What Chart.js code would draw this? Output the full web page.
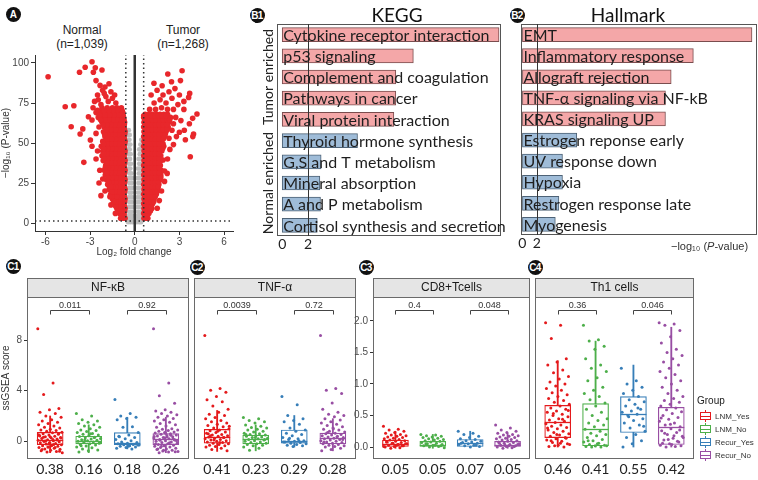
<!DOCTYPE html>
<html>
<head>
<meta charset="utf-8">
<script src="https://cdn.jsdelivr.net/npm/chart.js@4.4.0/dist/chart.umd.min.js"></script>
<style>
  body { margin: 0; background: #fff; }
  #wrap { position: relative; width: 758px; height: 480px; overflow: hidden; font-family: "Liberation Sans", Arial, sans-serif; color: #222; }
  #wrap canvas { position: absolute; }
  .badge { position: absolute; width: 15px; height: 15px; margin: -7.5px 0 0 -7.5px; border-radius: 50%; background: #111; color: #fff; font: bold 10px "Liberation Sans", Arial, sans-serif; text-align: center; line-height: 15px; letter-spacing: -0.6px; }
  .head { position: absolute; width: 110px; text-align: center; font-size: 12px; line-height: 14px; }
</style>
</head>
<body>
<div id="wrap">
  <div class="badge" style="left:13px;top:14px">A</div>
  <div class="badge" style="left:257px;top:15px">B1</div>
  <div class="badge" style="left:517px;top:15px">B2</div>
  <div class="badge" style="left:13px;top:266px">C1</div>
  <div class="badge" style="left:197px;top:267px">C2</div>
  <div class="badge" style="left:366px;top:267px">C3</div>
  <div class="badge" style="left:535px;top:267px">C4</div>
  <div class="head" style="left:27px;top:23px">Normal<br>(n=1,039)</div>
  <div class="head" style="left:128px;top:23px">Tumor<br>(n=1,268)</div>
</div>
<script>
// ---------- A: volcano ----------
const volcanoXTicks = [-6, -3, 0, 3, 6];
const volcanoYTicks = [0, 25, 50, 75, 100];
const fcCut = 0.6;
const pCut = 1.3;

// rows: [-log10 p, log2 fold changes...]
const normalRows = [
  [3, -0.65, -0.8, -0.95], [6, -0.72, -0.88, -1.02], [9, -0.65, -0.85, -1.05, -1.2],
  [12, -0.72, -0.95, -1.15, -1.35], [15, -0.65, -0.88, -1.1, -1.3, -1.5],
  [18, -0.72, -0.95, -1.2, -1.42, -1.62], [21, -0.65, -0.9, -1.12, -1.35, -1.55, -1.72],
  [24, -0.72, -0.98, -1.22, -1.45, -1.65, -1.82], [27, -0.65, -0.9, -1.15, -1.38, -1.6, -1.9],
  [30, -0.72, -0.98, -1.22, -1.45, -1.7, -1.98], [33, -0.65, -0.9, -1.15, -1.4, -1.62, -1.85, -2.05],
  [36, -0.72, -0.98, -1.22, -1.48, -1.72, -1.95], [39, -0.65, -0.9, -1.15, -1.4, -1.65, -1.88, -2.12],
  [42, -0.72, -0.98, -1.22, -1.48, -1.72, -1.98, -2.2], [45, -0.65, -0.9, -1.15, -1.4, -1.65, -1.9, -2.15],
  [48, -0.72, -0.98, -1.22, -1.48, -1.72, -2.0, -2.25], [51, -0.65, -0.9, -1.15, -1.4, -1.65, -1.9, -2.15],
  [54, -0.72, -0.98, -1.22, -1.48, -1.72, -2.0], [57, -0.65, -0.9, -1.15, -1.4, -1.65, -1.9, -2.1],
  [60, -0.72, -0.98, -1.22, -1.48, -1.75, -2.05], [63, -0.68, -0.9, -1.15, -1.4, -1.65, -1.9, -2.2],
  [66, -0.75, -1.0, -1.25, -1.5, -1.8, -2.1, -2.45], [69, -0.8, -1.05, -1.3, -1.6, -1.9, -2.25, -2.6],
  [72, -0.9, -1.2, -1.5, -1.85, -2.2, -2.8],
  [4.5, -0.72, -0.88], [7.5, -0.68, -0.92, -1.1], [10.5, -0.7, -0.98, -1.28],
  [13.5, -0.68, -0.82, -1.02, -1.25, -1.42], [16.5, -0.7, -1.0, -1.22, -1.55],
  [19.5, -0.68, -0.82, -1.08, -1.32, -1.52], [22.5, -0.7, -0.85, -1.02, -1.28, -1.48, -1.62],
  [25.5, -0.68, -0.82, -1.05, -1.3, -1.55, -1.75], [28.5, -0.7, -0.85, -1.02, -1.28, -1.52, -1.78],
  [31.5, -0.68, -0.85, -1.1, -1.35, -1.58, -1.85], [34.5, -0.7, -0.85, -1.05, -1.3, -1.55, -1.78, -1.98],
  [37.5, -0.68, -0.85, -1.1, -1.35, -1.6, -1.85], [40.5, -0.7, -0.85, -1.05, -1.3, -1.55, -1.8, -2.05],
  [43.5, -0.68, -0.85, -1.1, -1.35, -1.6, -1.85, -2.1], [46.5, -0.7, -0.85, -1.05, -1.3, -1.55, -1.8, -2.05],
  [49.5, -0.68, -0.85, -1.1, -1.35, -1.6, -1.85, -2.1], [52.5, -0.7, -0.85, -1.05, -1.3, -1.55, -1.85],
  [55.5, -0.68, -0.85, -1.1, -1.35, -1.6, -1.8, -2.02], [58.5, -0.7, -0.85, -1.05, -1.3, -1.6, -1.9],
  [61.5, -0.7, -0.85, -1.1, -1.35, -1.6, -1.85, -2.12], [64.5, -0.72, -0.95, -1.2, -1.45, -1.75, -2.0, -2.3],
  [67.5, -0.78, -1.1, -1.4, -1.7, -2.0, -2.35], [70.5, -0.85, -1.15, -1.45, -1.75, -2.05, -2.5]
];
const normalSparse = [
  [-5.82, 91.4], [-2.87, 100.8], [-3.33, 97.3], [-3.71, 94.2], [-2.65, 97], [-2.2, 95.6], [-2.78, 94.2],
  [-4.67, 72.7], [-4.09, 73.3], [-4.27, 60.2], [-3.49, 58.8], [-3.67, 55.6], [-3.42, 37.9], [-3.11, 66.4],
  [-2.87, 64.4], [-2.98, 51.9], [-2.87, 48], [-2.27, 17.1], [-1.67, 16.4], [-1.6, 11.3], [-2.15, 27.5],
  [-2.6, 89], [-2.33, 86], [-2.0, 85], [-1.73, 87], [-2.16, 83], [-1.6, 82], [-2.5, 80], [-1.94, 79],
  [-1.5, 78], [-2.7, 76], [-2.27, 74], [-1.78, 76], [-1.27, 75], [-2.45, 77], [-2.05, 81], [-1.35, 80],
  [-2.4, 60], [-2.6, 56], [-2.5, 45], [-2.6, 40], [-2.35, 33], [-2.4, 25], [-2.0, 20], [-1.3, 6]
];
const tumorRows = [
  [3, 0.62, 0.75, 0.88], [6, 0.6, 0.78, 0.95], [9, 0.62, 0.82, 1.0, 1.15], [12, 0.6, 0.8, 1.0, 1.2],
  [15, 0.62, 0.85, 1.08, 1.3], [18, 0.6, 0.82, 1.05, 1.25, 1.45], [21, 0.62, 0.85, 1.08, 1.3, 1.52],
  [24, 0.6, 0.82, 1.05, 1.28, 1.5, 1.62], [27, 0.62, 0.85, 1.08, 1.3, 1.52, 1.7],
  [30, 0.6, 0.82, 1.05, 1.28, 1.5, 1.75], [33, 0.62, 0.85, 1.08, 1.3, 1.52, 1.78],
  [36, 0.6, 0.82, 1.05, 1.28, 1.5, 1.72], [39, 0.62, 0.85, 1.08, 1.3, 1.52, 1.75],
  [42, 0.6, 0.82, 1.05, 1.28, 1.5, 1.75], [45, 0.62, 0.85, 1.08, 1.3, 1.55, 1.82],
  [48, 0.6, 0.82, 1.05, 1.28, 1.52, 1.78, 1.95], [51, 0.62, 0.85, 1.08, 1.3, 1.55, 1.8],
  [54, 0.6, 0.82, 1.05, 1.28, 1.52, 1.78, 2.0], [57, 0.62, 0.85, 1.08, 1.3, 1.55, 1.8, 2.1],
  [60, 0.6, 0.82, 1.05, 1.28, 1.52, 1.78, 2.02, 2.25], [63, 0.62, 0.85, 1.08, 1.3, 1.55, 1.8, 2.05, 2.3],
  [66, 0.6, 0.82, 1.05, 1.28, 1.52, 1.78, 2.02, 2.4], [68, 0.7, 0.95, 1.2, 1.45, 1.7, 1.95, 2.2],
  [4.5, 0.68, 0.82], [7.5, 0.68, 0.88, 1.05], [10.5, 0.7, 0.9, 1.1], [13.5, 0.7, 0.92, 1.12, 1.28],
  [16.5, 0.72, 0.95, 1.18, 1.38], [19.5, 0.7, 0.92, 1.15, 1.38, 1.5], [22.5, 0.72, 0.95, 1.18, 1.4, 1.58],
  [25.5, 0.7, 0.92, 1.15, 1.38, 1.6], [28.5, 0.72, 0.95, 1.18, 1.4, 1.62, 1.75], [31.5, 0.7, 0.92, 1.15, 1.38, 1.62],
  [34.5, 0.72, 0.95, 1.18, 1.4, 1.65], [37.5, 0.7, 0.92, 1.15, 1.38, 1.62], [40.5, 0.72, 0.95, 1.18, 1.4, 1.62],
  [43.5, 0.7, 0.92, 1.15, 1.38, 1.65], [46.5, 0.72, 0.95, 1.18, 1.4, 1.65, 1.88],
  [49.5, 0.7, 0.92, 1.15, 1.38, 1.65, 1.9], [52.5, 0.72, 0.95, 1.18, 1.4, 1.65, 1.92],
  [55.5, 0.7, 0.92, 1.15, 1.4, 1.65, 1.9, 2.05], [58.5, 0.72, 0.95, 1.18, 1.42, 1.68, 1.92, 2.18],
  [61.5, 0.7, 0.92, 1.15, 1.4, 1.65, 1.9, 2.15], [64.5, 0.72, 0.95, 1.18, 1.42, 1.68, 1.92, 2.2, 2.35],
  [67, 0.6, 0.85, 1.1, 1.35, 1.6, 1.85, 2.1]
];
const tumorSparse = [
  [3.18, 95.2], [2.22, 93.1], [1.29, 87.3], [2.47, 88.3], [3.07, 89], [1.84, 85.8], [3.69, 81], [3.62, 78.5],
  [4.18, 68.1], [3.89, 65.4], [3.67, 62], [3.95, 55.6], [3.9, 54], [3.73, 41.4], [3.33, 58], [3.4, 52],
  [3.0, 56.7], [2.36, 46], [2.18, 31], [2.0, 32.5], [1.9, 39.4], [1.51, 9.2],
  [1.1, 80], [1.5, 83], [1.9, 80], [2.3, 82], [2.7, 84], [3.0, 80], [3.3, 76], [1.3, 75], [1.7, 77],
  [2.1, 75], [2.5, 78], [2.9, 74], [3.3, 71], [1.0, 71], [1.4, 71], [1.8, 72], [2.2, 71], [2.6, 71],
  [2.75, 66], [3.1, 64], [2.6, 62], [2.5, 58], [2.8, 54], [2.3, 53], [2.6, 49], [2.2, 40], [2.0, 26],
  [1.8, 20], [1.65, 14]
];
const grayRows = [
  [0.5, -0.45, -0.3, -0.15, 0.15, 0.3, 0.42], [2.5, -0.38, -0.22, 0.22, 0.38],
  [4.5, -0.45, -0.3, -0.15, 0.15, 0.3, 0.42], [7, -0.38, -0.22, 0.22, 0.38],
  [10, -0.42, -0.28, -0.14, 0.14, 0.28, 0.42], [13, -0.36, -0.2, 0.2, 0.36],
  [16, -0.42, -0.28, -0.15, 0.16, 0.3, 0.42], [19, -0.36, -0.22, 0.22, 0.38],
  [22, -0.42, -0.28, -0.16, 0.18, 0.32], [25, -0.36, -0.22, 0.25, 0.4],
  [28, -0.42, -0.28, -0.18, 0.2, 0.34], [31, -0.36, -0.24, 0.28, 0.42],
  [34, -0.42, -0.3, 0.22, 0.36], [37, -0.38, -0.26, 0.3, 0.44], [40, -0.44, -0.32, 0.26, 0.4],
  [43, -0.4, -0.28, 0.34], [46, -0.44, -0.34, 0.3, 0.42], [49, -0.42, -0.3, 0.38],
  [52, -0.46, -0.36, 0.44], [55, -0.44, -0.34], [58, -0.48, -0.4]
];

// ---------- B: enrichment ----------
const keggTerms = ['Cytokine receptor interaction', 'p53 signaling', 'Complement and coagulation', 'Pathways in cancer',
  'Viral protein interaction', 'Thyroid hormone synthesis', 'G,S and T metabolism', 'Mineral absorption',
  'A and P metabolism', 'Cortisol synthesis and secretion'];
const keggValues = [16.7, 10.1, 8.75, 8.75, 8.6, 5.8, 3.0, 2.9, 2.95, 2.7];
const hallmarkTerms = ['EMT', 'Inflammatory response', 'Allograft rejection', 'TNF-α signaling via NF-kB',
  'KRAS signaling UP', 'Estrogen reponse early', 'UV response down', 'Hypoxia', 'Restrogen response late', 'Myogenesis'];
const hallmarkValues = [32.1, 23.9, 20.8, 20.0, 20.0, 7.6, 5.6, 5.6, 5.1, 4.6];
const enrichedIn = ['Tumor', 'Tumor', 'Tumor', 'Tumor', 'Tumor', 'Normal', 'Normal', 'Normal', 'Normal', 'Normal'];
const pCutoff = 2;

// ---------- C: ssGSEA boxplots ----------
const groupNames = ['LNM_Yes', 'LNM_No', 'Recur_Yes', 'Recur_No'];
const groupColors = ['#E41A1C', '#4DAF4A', '#377EB8', '#984EA3'];

// boxes: [lower whisker, Q1, median, Q3, upper whisker]
const nfkbMeans = ['0.38', '0.16', '0.18', '0.26'];
const nfkbP = ['0.011', '0.92'];
const nfkbBoxes = [[-0.9, -0.26, 0.13, 0.7, 2.0], [-0.9, -0.2, 0.05, 0.4, 1.3], [-0.6, -0.26, -0.1, 0.68, 1.9], [-0.9, -0.26, 0.2, 0.6, 1.9]];
const nfkbPoints = [
  [8.9, 4.6, 3.7, 2.6, 2.5, 2.3, 2.2, 2.0, 1.9, 1.7, 1.6, 1.5, 1.4, 1.3, 1.2, 1.1, 1.05, 0.95, 0.9, 0.85, 0.8, 0.72, 0.68,
   0.6, 0.55, 0.5, 0.46, 0.4, 0.35, 0.3, 0.28, 0.22, 0.18, 0.12, 0.08, 0.05, 0.0, -0.04, -0.1, -0.12, -0.18, -0.22, -0.27,
   -0.3, -0.35, -0.4, -0.45, -0.5, -0.55, -0.6, -0.62, -0.7, -0.75, -0.8, -0.85, -0.9, 0.15, 0.32, 0.62, -0.15, 0.42, -0.5,
   0.02, 0.25, -0.35, -0.65, 0.1, -0.45, 0.52, -0.25, 0.0, -0.78, 0.36],
  [2.2, 2.0, 1.7, 1.6, 1.5, 1.4, 1.3, 1.2, 1.1, 1.0, 0.9, 0.85, 0.78, 0.7, 0.62, 0.55, 0.5, 0.44, 0.38, 0.32, 0.28, 0.22,
   0.18, 0.12, 0.08, 0.04, 0.0, -0.05, -0.1, -0.15, -0.2, -0.25, -0.3, -0.38, -0.45, -0.52, -0.6, -0.68, -0.75, -0.85,
   0.3, 0.1, -0.12, 0.6, -0.35],
  [3.3, 2.2, 2.0, 1.9, 1.8, 1.7, 1.15, 1.1, 0.7, 0.5, 0.35, 0.3, 0.2, 0.15, 0.05, -0.05, -0.1, -0.15, -0.2, -0.25, -0.28,
   -0.3, -0.35, -0.4, -0.45, -0.5, -0.55, -0.6, -0.2, -0.3, -0.4, 0.4],
  [8.9, 4.6, 3.6, 3.0, 2.5, 2.4, 2.3, 2.2, 2.1, 2.0, 1.9, 1.8, 1.7, 1.6, 1.5, 1.4, 1.3, 1.2, 1.1, 1.0, 0.95, 0.9, 0.85,
   0.8, 0.74, 0.7, 0.66, 0.6, 0.56, 0.5, 0.45, 0.41, 0.35, 0.3, 0.26, 0.2, 0.15, 0.1, 0.05, 0.0, -0.05, -0.1, -0.16, -0.2,
   -0.25, -0.31, -0.35, -0.4, -0.45, -0.5, -0.55, -0.6, -0.65, -0.7, -0.76, -0.8, -0.85, -0.9, 0.12, 0.28, -0.22, 0.48,
   -0.4, 0.05, 0.33, -0.6, 0.2, -0.7, 0.38, -0.12, 0.08, -0.82, 0.62]
];

const tnfMeans = ['0.41', '0.23', '0.29', '0.28'];
const tnfP = ['0.0039', '0.72'];
const tnfBoxes = [[-0.07, 0.06, 0.16, 0.28, 0.58], [-0.06, 0.05, 0.12, 0.19, 0.35], [0.0, 0.06, 0.1, 0.27, 0.5], [-0.06, 0.05, 0.14, 0.22, 0.45]];
const tnfPoints = [
  [1.77, 0.93, 0.9, 0.87, 0.8, 0.75, 0.72, 0.65, 0.6, 0.55, 0.52, 0.5, 0.47, 0.45, 0.42, 0.4, 0.38, 0.36, 0.34, 0.32, 0.3,
   0.29, 0.27, 0.26, 0.24, 0.23, 0.22, 0.2, 0.19, 0.18, 0.17, 0.16, 0.15, 0.14, 0.13, 0.12, 0.11, 0.1, 0.09, 0.08, 0.07,
   0.06, 0.05, 0.04, 0.03, 0.02, 0.01, 0.0, -0.02, -0.04, -0.06, 0.25, 0.21, 0.15, 0.11, 0.33, 0.07, 0.18],
  [0.47, 0.45, 0.42, 0.4, 0.38, 0.35, 0.33, 0.31, 0.3, 0.28, 0.27, 0.25, 0.24, 0.22, 0.21, 0.2, 0.19, 0.18, 0.17, 0.16,
   0.15, 0.14, 0.13, 0.12, 0.11, 0.1, 0.09, 0.08, 0.07, 0.06, 0.05, 0.04, 0.03, 0.02, 0.0, -0.02, -0.05, 0.12, 0.15, 0.2],
  [0.8, 0.67, 0.5, 0.45, 0.42, 0.4, 0.36, 0.3, 0.27, 0.25, 0.22, 0.2, 0.18, 0.15, 0.13, 0.12, 0.1, 0.09, 0.08, 0.07, 0.06,
   0.05, 0.04, 0.03, 0.02, 0.01, 0.08, 0.1, 0.14],
  [1.77, 0.93, 0.9, 0.85, 0.7, 0.6, 0.55, 0.52, 0.5, 0.48, 0.45, 0.43, 0.4, 0.38, 0.36, 0.34, 0.32, 0.3, 0.28, 0.27, 0.25,
   0.24, 0.22, 0.21, 0.2, 0.19, 0.18, 0.17, 0.16, 0.15, 0.14, 0.13, 0.12, 0.11, 0.1, 0.09, 0.08, 0.07, 0.06, 0.05, 0.04,
   0.03, 0.02, 0.01, 0.0, -0.02, -0.04, -0.06, 0.16, 0.23, 0.12, 0.29, 0.08]
];

const cd8Means = ['0.05', '0.05', '0.07', '0.05'];
const cd8P = ['0.4', '0.048'];
const cd8Boxes = [[-0.02, 0.0, 0.05, 0.11, 0.25], [-0.02, 0.0, 0.04, 0.09, 0.2], [-0.01, 0.0, 0.06, 0.12, 0.25], [-0.02, 0.0, 0.04, 0.09, 0.22]];
const cd8Points = [
  [0.33, 0.28, 0.27, 0.25, 0.23, 0.22, 0.2, 0.19, 0.18, 0.17, 0.16, 0.15, 0.14, 0.13, 0.12, 0.11, 0.1, 0.09, 0.08, 0.07,
   0.06, 0.05, 0.04, 0.03, 0.02, 0.01, 0.0, -0.01, -0.02, 0.05, 0.03, 0.08, 0.02, 0.06, 0.01, 0.04],
  [0.2, 0.19, 0.18, 0.17, 0.16, 0.15, 0.14, 0.13, 0.12, 0.11, 0.1, 0.09, 0.08, 0.07, 0.06, 0.05, 0.04, 0.03, 0.02, 0.01,
   0.0, -0.01, 0.03, 0.05, 0.02],
  [0.25, 0.22, 0.2, 0.17, 0.15, 0.13, 0.12, 0.1, 0.09, 0.08, 0.07, 0.06, 0.05, 0.04, 0.03, 0.02, 0.01, 0.0, 0.06, 0.03],
  [0.35, 0.3, 0.27, 0.25, 0.23, 0.22, 0.2, 0.19, 0.18, 0.17, 0.16, 0.15, 0.14, 0.13, 0.12, 0.11, 0.1, 0.09, 0.08, 0.07,
   0.06, 0.05, 0.04, 0.03, 0.02, 0.01, 0.0, -0.01, -0.02, 0.04, 0.02, 0.06, 0.01, 0.03]
];

const th1Means = ['0.46', '0.41', '0.55', '0.42'];
const th1P = ['0.36', '0.046'];
const th1Boxes = [[0.0, 0.15, 0.4, 0.66, 1.37], [0.0, 0.02, 0.29, 0.69, 1.68], [0.0, 0.23, 0.53, 0.8, 1.3], [0.0, 0.04, 0.31, 0.63, 1.9]];
const th1Points = [
  [1.97, 1.93, 1.72, 1.4, 1.35, 1.3, 1.22, 1.18, 1.12, 1.08, 1.03, 1.0, 0.97, 0.93, 0.9, 0.86, 0.83, 0.8, 0.77, 0.74, 0.71,
   0.68, 0.65, 0.62, 0.6, 0.57, 0.55, 0.52, 0.5, 0.48, 0.45, 0.43, 0.41, 0.39, 0.37, 0.35, 0.33, 0.31, 0.29, 0.27, 0.25,
   0.23, 0.21, 0.19, 0.17, 0.15, 0.13, 0.11, 0.09, 0.07, 0.05, 0.03, 0.01, 0.0, 0.02, 0.04, 0.06, 0.1, 0.14, 0.2, 0.3,
   0.44, 0.53, 0.58],
  [1.93, 1.7, 1.68, 1.6, 1.55, 1.4, 1.3, 1.25, 1.2, 1.1, 1.05, 0.95, 0.9, 0.85, 0.8, 0.75, 0.7, 0.65, 0.6, 0.55, 0.5, 0.45,
   0.42, 0.38, 0.35, 0.32, 0.28, 0.25, 0.22, 0.2, 0.18, 0.15, 0.12, 0.1, 0.08, 0.06, 0.04, 0.03, 0.02, 0.01, 0.0, 0.0,
   0.02, 0.05, 0.1],
  [1.25, 1.05, 1.0, 0.95, 0.9, 0.85, 0.8, 0.75, 0.72, 0.68, 0.65, 0.6, 0.57, 0.55, 0.52, 0.5, 0.45, 0.42, 0.38, 0.35, 0.3,
   0.25, 0.2, 0.15, 0.1, 0.05, 0.0, 0.62, 0.48, 0.33],
  [1.97, 1.95, 1.93, 1.85, 1.75, 1.65, 1.55, 1.5, 1.45, 1.4, 1.35, 1.3, 1.25, 1.2, 1.15, 1.1, 1.05, 1.0, 0.95, 0.9, 0.85,
   0.8, 0.77, 0.74, 0.71, 0.68, 0.65, 0.62, 0.59, 0.56, 0.53, 0.5, 0.47, 0.44, 0.41, 0.38, 0.35, 0.32, 0.29, 0.26, 0.23,
   0.2, 0.17, 0.14, 0.11, 0.08, 0.05, 0.03, 0.01, 0.0, 0.02, 0.04, 0.06, 0.09, 0.12, 0.15, 0.18, 0.22, 0.27, 0.36, 0.46]
];

const nfkbTicks = [0, 4, 8];
const sharedTicks = [0, 0.5, 1, 1.5, 2];

// ------------------------------------------------------------
Chart.defaults.animation = false;
Chart.defaults.font.family = '"Liberation Sans", Arial, sans-serif';

const wrap = document.getElementById('wrap');
function makeCanvas(left, top, w, h) {
  const c = document.createElement('canvas');
  c.width = w;
  c.height = h;
  c.style.left = left + 'px';
  c.style.top = top + 'px';
  c.style.width = w + 'px';
  c.style.height = h + 'px';
  wrap.appendChild(c);
  return c;
}
const rowsToPoints = rows => rows.flatMap(([p, ...fcs]) => fcs.map(fc => ({ x: fc, y: p })));
const pairsToPoints = pairs => pairs.map(([x, y]) => ({ x, y }));
const fixTicks = list => scale => { scale.ticks = list.map(v => ({ value: v })); };
const base = { responsive: false, devicePixelRatio: 1, events: [], plugins: { legend: { display: false }, tooltip: { enabled: false } } };

// ---------- volcano ----------
const volX = [-6.7, 6.6], volY = [-5, 105];
const refLine = (pts, width, dash) => ({
  data: pairsToPoints(pts), showLine: true, borderColor: '#333', borderWidth: width, borderDash: dash, pointRadius: 0
});

new Chart(makeCanvas(0, 0, 245, 258), {
  type: 'scatter',
  data: {
    datasets: [
      refLine([[0, volY[0]], [0, volY[1]]], 2.5, []),
      refLine([[-fcCut, volY[0]], [-fcCut, volY[1]]], 1.5, [1.5, 3]),
      refLine([[fcCut, volY[0]], [fcCut, volY[1]]], 1.5, [1.5, 3]),
      refLine([[volX[0], pCut], [volX[1], pCut]], 1.5, [1.5, 3]),
      { data: [...rowsToPoints(normalRows), ...pairsToPoints(normalSparse), ...rowsToPoints(tumorRows), ...pairsToPoints(tumorSparse)],
        backgroundColor: '#E8272B', pointRadius: 2.8, borderWidth: 0 },
      { data: rowsToPoints(grayRows), backgroundColor: '#BEBEBE', pointRadius: 2.4, borderWidth: 0 }
    ]
  },
  options: {
    ...base,
    layout: { padding: { left: 0, top: 55, right: 12, bottom: 0 } },
    scales: {
      x: {
        type: 'linear', min: volX[0], max: volX[1],
        afterBuildTicks: fixTicks(volcanoXTicks),
        afterFit: s => { s.height = 27; s.paddingLeft = 0; s.paddingRight = 0; },
        grid: { drawOnChartArea: false, tickLength: 4, tickColor: '#333' },
        border: { color: '#333' },
        ticks: { color: '#444', font: { size: 10 }, padding: 1 },
        title: { display: true, text: 'Log₂ fold change', color: '#333', font: { size: 10 }, padding: 0 }
      },
      y: {
        min: volY[0], max: volY[1],
        afterBuildTicks: fixTicks(volcanoYTicks),
        afterFit: s => { s.width = 35; },
        grid: { drawOnChartArea: false, tickLength: 4, tickColor: '#333' },
        border: { color: '#333' },
        ticks: { color: '#444', font: { size: 10 }, padding: 2 },
        title: { display: true, text: '−log₁₀ (P-value)', color: '#333', font: { size: 10 }, padding: 0 }
      }
    }
  }
});

// ---------- enrichment bars ----------
function enrichPlugin(cfg) {
  return {
    id: 'enrich',
    afterDatasetsDraw(chart) {
      const { ctx, chartArea: a, scales: { x, y } } = chart;
      ctx.save();
      ctx.strokeStyle = '#555';
      ctx.lineWidth = 1;
      ctx.strokeRect(a.left + 0.5, a.top + 0.5, a.width - 1, a.height - 1);
      const px = Math.round(x.getPixelForValue(pCutoff)) + 0.5;
      ctx.strokeStyle = '#333';
      ctx.beginPath();
      ctx.moveTo(px, a.top);
      ctx.lineTo(px, a.bottom);
      ctx.stroke();
      ctx.fillStyle = '#1e1e1e';
      ctx.font = '16px Lato';
      ctx.textAlign = 'left';
      ctx.textBaseline = 'middle';
      chart.data.labels.forEach((t, i) => ctx.fillText(t, x.getPixelForValue(0) + 1, y.getPixelForValue(i) + 1));
      ctx.font = '19px Lato';
      ctx.textAlign = 'center';
      ctx.fillStyle = '#111';
      ctx.fillText(cfg.title, cfg.titleX, 16);
      if (cfg.groups) {
        ctx.font = '14px Lato';
        ctx.fillStyle = '#222';
        [['Tumor enriched', 0, 4], ['Normal enriched', 5, 9]].forEach(([t, i0, i1]) => {
          ctx.save();
          ctx.translate(a.left - 9, (y.getPixelForValue(i0) + y.getPixelForValue(i1)) / 2);
          ctx.rotate(-Math.PI / 2);
          ctx.fillText(t, 0, 0);
          ctx.restore();
        });
      }
      if (cfg.axisTitle) {
        ctx.textAlign = 'left';
        ctx.fillStyle = '#333';
        let tx = cfg.axisTitle.x;
        [['−log₁₀ (', ''], ['P', 'italic '], ['-value)', '']].forEach(([t, st]) => {
          ctx.font = st + '11px "Liberation Sans"';
          ctx.fillText(t, tx, cfg.axisTitle.y);
          tx += ctx.measureText(t).width;
        });
      }
      ctx.restore();
    }
  };
}

function enrichChart(left, w, terms, values, xr, cfg) {
  const pad = cfg.pad;
  new Chart(makeCanvas(left, 0, w, 255), {
    type: 'bar',
    data: {
      labels: terms,
      datasets: [{
        data: values,
        backgroundColor: enrichedIn.map(g => g === 'Tumor' ? '#F4A7A8' : '#9FBCD8'),
        borderColor: enrichedIn.map(g => g === 'Tumor' ? '#7a4d4e' : '#4d6276'),
        borderWidth: 1, borderSkipped: false, barThickness: 14
      }]
    },
    options: {
      ...base,
      indexAxis: 'y',
      layout: { padding: { left: 0, top: 24, right: pad.right, bottom: 0 } },
      scales: {
        x: {
          min: xr[0], max: xr[1],
          afterBuildTicks: fixTicks([0, 2]),
          afterFit: s => { s.height = pad.bottom; s.paddingLeft = 0; s.paddingRight = 0; },
          grid: { display: false, drawTicks: false }, border: { display: false },
          ticks: { color: '#222', font: { family: 'Lato', size: 14 }, padding: 0 }
        },
        y: {
          ticks: { display: false }, grid: { display: false, drawTicks: false }, border: { display: false },
          afterFit: s => { s.width = pad.left; }
        }
      }
    },
    plugins: [enrichPlugin(cfg)]
  });
}

enrichChart(250, 255, keggTerms, keggValues, [-0.4, 16.85],
  { pad: { left: 27, right: 4, bottom: 19 }, title: 'KEGG', titleX: 147, groups: true });
enrichChart(505, 253, hallmarkTerms, hallmarkValues, [-0.2, 32.8],
  { pad: { left: 16, right: 1, bottom: 20 }, title: 'Hallmark', titleX: 123, axisTitle: { x: 166, y: 247 } });

// ---------- ssGSEA boxplots ----------
const BOX_W = 26;
const spread = k => (((k * 0.6180339887) % 1) - 0.5) * 0.64;

function facetPlugin(cfg) {
  return {
    id: 'facet',
    afterDatasetDraw(chart, args) {
      if (chart.data.datasets[args.index].label !== 'box') return;
      const { ctx, scales: { x, y } } = chart;
      ctx.save();
      ctx.lineWidth = 1.3;
      cfg.boxes.forEach((b, i) => {
        const cx = x.getPixelForValue(i + 1), py = Math.round(y.getPixelForValue(b[2])) + 0.5;
        ctx.strokeStyle = groupColors[i];
        ctx.beginPath();
        ctx.moveTo(cx - BOX_W / 2, py);
        ctx.lineTo(cx + BOX_W / 2, py);
        ctx.stroke();
      });
      ctx.restore();
    },
    afterDraw(chart) {
      const { ctx, chartArea: a, scales: { x } } = chart;
      ctx.save();
      ctx.fillStyle = '#e5e5e5';
      ctx.fillRect(a.left, a.top - 19, a.width, 19);
      ctx.strokeStyle = '#6a6a6a';
      ctx.lineWidth = 1;
      ctx.strokeRect(a.left + 0.5, a.top - 18.5, a.width - 1, a.height + 18);
      ctx.beginPath();
      ctx.moveTo(a.left, a.top + 0.5);
      ctx.lineTo(a.right, a.top + 0.5);
      ctx.stroke();
      ctx.fillStyle = '#1a1a1a';
      ctx.font = '12px "Liberation Sans"';
      ctx.textAlign = 'center';
      ctx.textBaseline = 'middle';
      ctx.fillText(cfg.title, (a.left + a.right) / 2, a.top - 9);
      ctx.font = '9px "Liberation Sans"';
      ctx.strokeStyle = '#444';
      ctx.fillStyle = '#333';
      cfg.pvals.forEach((p, k) => {
        const x1 = Math.round(x.getPixelForValue(1 + 2 * k)) + 0.5;
        const x2 = Math.round(x.getPixelForValue(2 + 2 * k)) + 0.5;
        const yy = a.top + 13.5;
        ctx.beginPath();
        ctx.moveTo(x1, yy + 4);
        ctx.lineTo(x1, yy);
        ctx.lineTo(x2, yy);
        ctx.lineTo(x2, yy + 4);
        ctx.stroke();
        ctx.fillText(p, (x1 + x2) / 2, yy - 5);
      });
      if (cfg.legend) {
        const lx = a.right + 3;
        ctx.textAlign = 'left';
        ctx.fillStyle = '#222';
        ctx.font = '10px "Liberation Sans"';
        ctx.fillText('Group', lx, 146);
        ctx.font = '8px "Liberation Sans"';
        groupNames.forEach((g, i) => {
          const cy = 161 + i * 13;
          ctx.strokeStyle = groupColors[i];
          ctx.strokeRect(lx + 3.5, cy - 3.5, 10, 7);
          ctx.beginPath();
          ctx.moveTo(lx + 3.5, cy + 0.5); ctx.lineTo(lx + 13.5, cy + 0.5);
          ctx.moveTo(lx + 8.5, cy - 6); ctx.lineTo(lx + 8.5, cy - 3.5);
          ctx.moveTo(lx + 8.5, cy + 3.5); ctx.lineTo(lx + 8.5, cy + 6);
          ctx.stroke();
          ctx.fillStyle = '#333';
          ctx.fillText(g, lx + 18, cy + 1);
        });
      }
      ctx.restore();
    }
  };
}

function boxPanel(cfg) {
  const datasets = cfg.points.map((vals, i) => ({
    type: 'scatter',
    data: vals.map((v, k) => ({ x: i + 1 + spread(k), y: v })),
    backgroundColor: groupColors[i], pointRadius: 1.5, borderWidth: 0, order: 0
  }));
  datasets.push({
    type: 'bar', label: 'box', grouped: false, order: 1,
    data: cfg.boxes.map((b, i) => ({ x: i + 1, y: [b[1], b[3]] })),
    backgroundColor: '#fff', borderColor: groupColors, borderWidth: 1.2, borderSkipped: false, barThickness: BOX_W
  });
  datasets.push({
    type: 'bar', label: 'whisker', grouped: false, order: 2,
    data: cfg.boxes.map((b, i) => ({ x: i + 1, y: [b[0], b[4]] })),
    backgroundColor: groupColors, borderWidth: 0, barThickness: 1.2
  });
  new Chart(makeCanvas(cfg.left, 255, cfg.width, 225), {
    type: 'bar',
    data: { datasets },
    options: {
      ...base,
      layout: { padding: { left: cfg.padLeft, top: 42, right: cfg.padRight, bottom: 0 } },
      scales: {
        x: {
          type: 'linear', min: 0.4, max: 4.6, offset: false,
          afterBuildTicks: fixTicks([1, 2, 3, 4]),
          afterFit: s => { s.height = 21; s.paddingLeft = 0; s.paddingRight = 0; },
          grid: { display: false, drawTicks: false }, border: { display: false },
          ticks: { color: '#222', font: { family: 'Lato', size: 14 }, padding: 2, callback: (v, i) => cfg.means[i] }
        },
        y: {
          display: !!cfg.yTicks, min: cfg.yRange[0], max: cfg.yRange[1],
          afterBuildTicks: fixTicks(cfg.yTicks || []),
          afterFit: s => { s.width = cfg.yWidth || 0; },
          grid: { drawOnChartArea: false, tickLength: 3, tickColor: '#333' },
          border: { display: false },
          ticks: { color: '#4d4d4d', font: { size: 10 }, padding: 2, callback: v => cfg.yFmt ? v.toFixed(1) : String(v) },
          title: { display: !!cfg.yTitle, text: cfg.yTitle || '', color: '#333', font: { size: 10 }, padding: 0 }
        }
      }
    },
    plugins: [facetPlugin(cfg)]
  });
}

const sharedRange = [-0.19, 2.38];
boxPanel({ left: 0, width: 193, padLeft: 0, padRight: 1, yWidth: 27, yTicks: nfkbTicks, yRange: [-1.4, 11.4],
  yTitle: 'ssGSEA score', title: 'NF-κB', means: nfkbMeans, pvals: nfkbP, boxes: nfkbBoxes, points: nfkbPoints });
boxPanel({ left: 190, width: 170, padLeft: 3, padRight: 4, yRange: sharedRange,
  title: 'TNF-α', means: tnfMeans, pvals: tnfP, boxes: tnfBoxes, points: tnfPoints });
boxPanel({ left: 345, width: 190, padLeft: 0, padRight: 5, yWidth: 28, yTicks: sharedTicks, yFmt: true, yRange: sharedRange,
  title: 'CD8+Tcells', means: cd8Means, pvals: cd8P, boxes: cd8Boxes, points: cd8Points });
boxPanel({ left: 530, width: 228, padLeft: 5, padRight: 64, yRange: sharedRange, legend: true,
  title: 'Th1 cells', means: th1Means, pvals: th1P, boxes: th1Boxes, points: th1Points });
</script>
</body>
</html>
